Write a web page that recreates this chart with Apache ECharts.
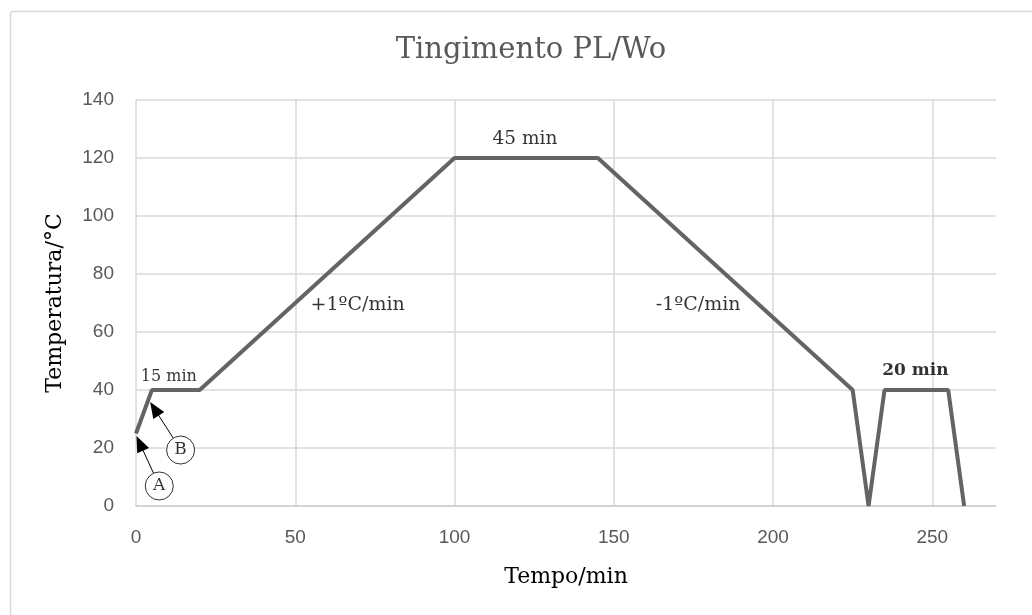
<!DOCTYPE html>
<html>
<head>
<meta charset="utf-8">
<script src="https://cdn.jsdelivr.net/npm/echarts@6/dist/echarts.min.js"></script>
<style>html,body{margin:0;padding:0;background:#fff;}#c{width:1032px;height:615px;}</style>
</head>
<body>
<div id="c"></div>
<script>
// ---- data ----
const timeMin = [0, 5, 20, 100, 145, 225, 230, 235, 255, 260];
const tempC   = [25, 40, 40, 120, 120, 40, 0, 40, 40, 0];

const yTickMin = 0, yTickMax = 140, yTickStep = 20;
const xTickMin = 0, xTickMax = 270, xTickStep = 50;

// annotation texts [x, y, text]
const noteX    = [10.3, 122.1, 69.6, 176.5, 244.7];
const noteY    = [44.5, 126.4, 69.3, 69.3, 46.7];
const noteText = ['15 min', '45 min', '+1ºC/min', '-1ºC/min', '20 min'];

// circled markers
const circleX = [7.3, 14.0];
const circleY = [6.9, 19.3];
const circleText = ['A', 'B'];

// arrows: from (start) to (head)
const arrowFromX = [5.5, 11.7];
const arrowFromY = [11.3, 23.4];
const arrowToX   = [1.2, 5.8];
const arrowToY   = [21.6, 33.5];

// ---- styles ----
const SERIF = 'DejaVu Serif';
const SANS = 'Liberation Sans';
const noteSize = [16, 18.5, 19, 19, 17];
const noteWeight = ['normal', 'normal', 'normal', 'normal', 'bold'];

const chart = echarts.init(document.getElementById('c'), null, {renderer: 'canvas'});

const lineData = timeMin.map((t, i) => [t, tempC[i]]);
const noteData = noteX.map((x, i) => ({
  value: [x, noteY[i]],
  label: {
    show: true, position: 'inside', formatter: noteText[i],
    fontFamily: SERIF, fontSize: noteSize[i], fontWeight: noteWeight[i], color: '#000'
  }
}));
const circleData = circleX.map((x, i) => ({value: [x, circleY[i]], name: circleText[i]}));
const arrowData = arrowFromX.map((x, i) => [
  {coord: [x, arrowFromY[i]]},
  {coord: [arrowToX[i], arrowToY[i]]}
]);

chart.setOption({
  backgroundColor: '#fff',
  animation: false,
  graphic: [{
    type: 'rect', left: 8, top: 9, shape: {width: 1100, height: 700, r: 3},
    style: {fill: 'none', stroke: '#d9d9d9', lineWidth: 1.5}, silent: true, z: -10
  }],
  title: {
    text: 'Tingimento PL/Wo', left: 526, top: 31, textAlign: 'center',
    textStyle: {fontFamily: SERIF, fontSize: 29, fontWeight: 'normal', color: '#595959'}
  },
  grid: {left: 136, right: 36, top: 100, bottom: 109, containLabel: false},
  xAxis: {
    type: 'value', min: xTickMin, max: xTickMax, interval: xTickStep,
    name: 'Tempo/min', nameLocation: 'middle', nameGap: 60,
    nameTextStyle: {fontFamily: SERIF, fontSize: 22, color: '#000'},
    axisLine: {show: true, lineStyle: {color: '#d0d0d0', width: 1.5}},
    axisTick: {show: false},
    axisLabel: {
      color: '#595959', fontFamily: SANS, fontSize: 19, margin: 22,
      formatter: v => (v % xTickStep === 0 ? String(v) : '')
    },
    splitLine: {show: true, showMaxLine: false, lineStyle: {color: '#d9d9d9', width: 1.5}}
  },
  yAxis: {
    type: 'value', min: yTickMin, max: yTickMax, interval: yTickStep,
    name: 'Temperatura/°C', nameLocation: 'middle', nameGap: 70, nameRotate: 90,
    nameTextStyle: {fontFamily: SERIF, fontSize: 22, color: '#000'},
    axisLine: {show: false},
    axisTick: {show: false},
    axisLabel: {color: '#595959', fontFamily: SANS, fontSize: 19, margin: 22},
    splitLine: {show: true, lineStyle: {color: '#d9d9d9', width: 1.5}}
  },
  series: [
    {
      type: 'line', data: lineData, showSymbol: false, symbol: 'none',
      lineStyle: {color: '#646464', width: 4}, z: 3
    },
    {
      type: 'scatter', data: noteData, symbolSize: 0, z: 4, silent: true
    },
    {
      type: 'scatter', data: circleData, symbol: 'circle', symbolSize: 28, z: 6, silent: true,
      itemStyle: {color: '#fff', borderColor: '#000', borderWidth: 1},
      label: {show: true, position: 'inside', formatter: p => p.name,
        fontFamily: SERIF, fontSize: 17, color: '#000'},
      markLine: {
        silent: true, symbol: ['none', 'triangle'], symbolSize: [13, 16],
        lineStyle: {color: '#000', width: 1, type: 'solid'},
        label: {show: false},
        data: arrowData
      }
    }
  ]
});
</script>
</body>
</html>
